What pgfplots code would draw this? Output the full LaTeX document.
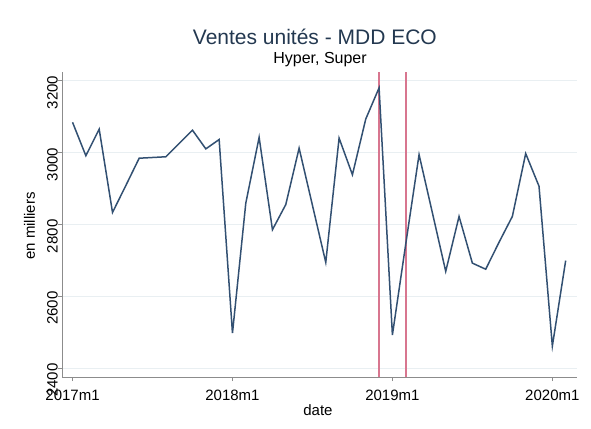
\documentclass[border=0pt]{standalone}
\usepackage{fontspec}
\setmainfont{Liberation Sans}
\usepackage{pgfplots}
\pgfplotsset{compat=1.18}
\definecolor{stnavy}{RGB}{50,80,114}
\definecolor{xred}{RGB}{216,118,143}
\definecolor{axgray}{RGB}{140,140,140}
\definecolor{gridc}{RGB}{233,239,242}
\begin{document}
\begin{tikzpicture}
\useasboundingbox (-62bp,-52bp) rectangle (529bp,377bp);
\begin{axis}[
  scale only axis, width=515bp, height=305bp,
  xmin=-0.79, xmax=37.85, ymin=2375, ymax=3224,
  axis lines*=left, axis line style={axgray, line width=1bp},
  xtick={0,12,24,36}, xticklabels={2017m1,2018m1,2019m1,2020m1},
  ytick={2400,2600,2800,3000,3200},
  tick align=outside, major tick length=4bp,
  tick style={axgray, line width=0.8bp},
  ymajorgrids, major grid style={gridc, line width=0.8bp},
  /pgf/number format/assume math mode=true,
  /pgf/number format/1000 sep={},
  ticklabel style={font=\fontsize{15bp}{18bp}\selectfont, inner sep=0pt},
  xticklabel style={anchor=north, yshift=-9bp},
  yticklabel style={rotate=90, anchor=south, xshift=-12bp},
  clip=false,
]
% xline(2018m12 2019m2)
\addplot[draw=xred, line width=1.6bp, mark=none, forget plot] coordinates {(23,2375) (23,3224)};
\addplot[draw=xred, line width=1.6bp, mark=none, forget plot] coordinates {(25.02,2375) (25.02,3224)};
\addplot[stnavy, line width=1.5bp, mark=none] coordinates {
(0,3084) (1,2991) (2,3065) (3,2833) (4,2908) (5,2984) (6,2986) (7,2988)
(8,3025) (9,3062) (10,3010) (11,3036) (12,2497) (13,2859) (14,3042) (15,2785)
(16,2855) (17,3012) (18,2853) (19,2694) (20,3040) (21,2938) (22,3093) (23,3180)
(24,2492) (25,2745) (26,2994) (27,2832) (28,2669) (29,2822) (30,2692) (31,2675)
(32,2750) (33,2822) (34,2997) (35,2906) (36,2461) (37,2699)
};
\node[anchor=base, font=\fontsize{21bp}{25bp}\selectfont, text=stnavy!70!black]
  at (axis description cs:0.491,1) [yshift=27bp] {Ventes unités - MDD ECO};
\node[anchor=base, font=\fontsize{16bp}{19bp}\selectfont]
  at (axis description cs:0.501,1) [yshift=8bp] {Hyper, Super};
\node[anchor=base, font=\fontsize{15bp}{18bp}\selectfont]
  at (axis description cs:0.497,0) [yshift=-38bp] {date};
\node[xshift=-27bp, rotate=90, anchor=base, font=\fontsize{15bp}{18bp}\selectfont]
  at (axis description cs:0,0.495) {en milliers};
\end{axis}
\end{tikzpicture}
\end{document}
